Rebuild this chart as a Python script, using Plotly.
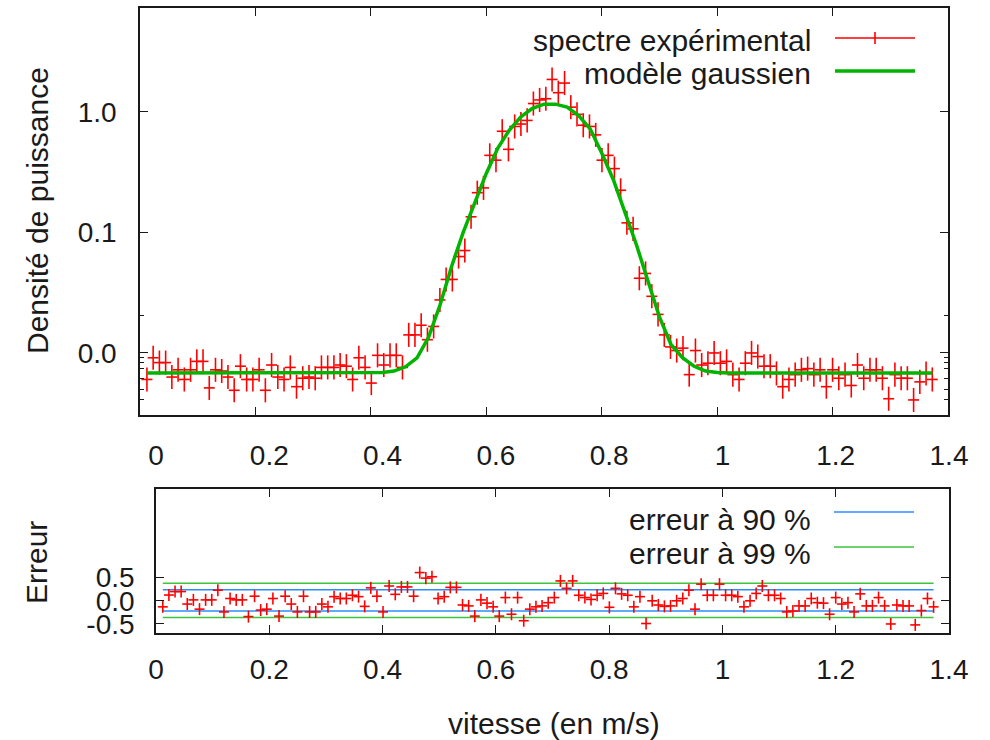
import numpy as np
import plotly.graph_objects as go

W, H = 990, 740
FONT = "Liberation Sans, Arial, sans-serif"
FS_TICK = 28
FS_TEXT = 30

# velocity grid of the spectrum bins (m/s)
vitesse = np.round(0.012 + 0.0108 * np.arange(127), 4)

# measured spectrum, in the display units of the y axis (tick 0.0 -> 0, 0.1 -> 1, 1.0 -> 2)
spectre = [
    -0.22, -0.04, -0.08, -0.08, -0.20, -0.14, -0.22, -0.14, -0.07, -0.07,
    -0.29, -0.14, -0.15, -0.20, -0.31, -0.11, -0.22, -0.22, -0.14, -0.31,
    -0.10, -0.20, -0.22, -0.12, -0.28, -0.21, -0.20, -0.21, -0.12, -0.12,
    -0.12, -0.10, -0.11, -0.22, -0.04, -0.12, -0.25, -0.02, -0.10, -0.02,
    -0.02, -0.12, 0.15, 0.15, 0.23, 0.11, 0.22, 0.44, 0.61, 0.61,
    0.80, 0.85, 1.13, 1.33, 1.37, 1.64, 1.60, 1.84, 1.69, 1.88,
    1.90, 1.93, 2.07, 2.10, 2.11, 2.27, 2.16, 2.24, 2.04, 1.98,
    1.89, 1.88, 1.81, 1.60, 1.64, 1.53, 1.35, 1.08, 1.03, 0.62,
    0.66, 0.47, 0.32, 0.15, 0.05, 0.02, 0.04, -0.18, 0.02, -0.10,
    -0.085, 0.0, -0.085, -0.07, -0.18, -0.22, -0.085, 0.0, -0.03, -0.11,
    -0.11, -0.17, -0.28, -0.22, -0.18, -0.14, -0.13, -0.18, -0.14, -0.28,
    -0.14, -0.21, -0.18, -0.27, -0.10, -0.21, -0.14, -0.14, -0.21, -0.38,
    -0.18, -0.21, -0.21, -0.39, -0.24, -0.17, -0.22,
]

# gaussian model, same display units
modele_x = [0.012, 0.40, 0.42, 0.44, 0.46, 0.48, 0.50, 0.52, 0.54, 0.56, 0.58,
            0.60, 0.62, 0.64, 0.66, 0.68, 0.70, 0.72, 0.74, 0.76, 0.78, 0.80,
            0.82, 0.84, 0.86, 0.88, 0.90, 0.92, 0.94, 0.96, 0.98, 1.00, 1.02, 1.373]
modele_y = [-0.166, -0.166, -0.162, -0.150, -0.115, -0.04, 0.13, 0.40, 0.72, 1.00, 1.25,
            1.49, 1.70, 1.85, 1.96, 2.03, 2.065, 2.065, 2.04, 1.97, 1.86, 1.66,
            1.44, 1.18, 0.90, 0.60, 0.30, 0.07, -0.04, -0.11, -0.15, -0.163, -0.166, -0.166]

# normalised residuals
erreur = [
    -0.13, 0.125, 0.20, 0.20, -0.07, 0.02, -0.18, 0.02, 0.02, 0.23,
    -0.24, 0.05, 0.02, 0.02, -0.34, 0.10, -0.20, -0.18, 0.05, -0.33,
    0.10, -0.07, -0.24, 0.10, -0.24, -0.24, -0.07, -0.13, 0.09, 0.05,
    0.05, 0.12, 0.09, -0.12, 0.28, 0.10, -0.24, 0.32, 0.14, 0.30,
    0.30, 0.10, 0.61, 0.49, 0.52, 0.05, 0.09, 0.29, 0.29, -0.09,
    -0.11, -0.33, 0.02, -0.05, -0.13, -0.33, 0.07, -0.29, 0.07, -0.43,
    -0.18, -0.13, -0.11, -0.04, 0.07, 0.43, 0.27, 0.43, 0.12, 0.07,
    0.03, 0.12, 0.16, -0.14, 0.27, 0.15, 0.12, -0.13, 0.09, -0.49,
    0.00, -0.09, -0.12, -0.11, 0.00, 0.05, 0.23, -0.18, 0.36, 0.12,
    0.12, 0.36, 0.12, 0.12, 0.09, -0.13, 0.00, 0.16, 0.32, 0.12,
    0.12, 0.05, -0.24, -0.22, -0.11, -0.11, 0.05, -0.04, -0.05, -0.29,
    0.07, -0.07, -0.04, -0.24, 0.15, -0.11, -0.11, 0.07, -0.11, -0.50,
    -0.09, -0.11, -0.11, -0.52, -0.21, 0.05, -0.13,
]

seuil_90 = [0.24, -0.22]
seuil_99 = [0.38, -0.36]

x_ticks = [0, 0.2, 0.4, 0.6, 0.8, 1.0, 1.2, 1.4]
x_ticktext = ["0", "0.2", "0.4", "0.6", "0.8", "1", "1.2", "1.4"]


def px(x):
    return x / W


def py(y):
    return 1 - y / H


RED = "#ff0000"
GREEN = "#00b400"
BLUE = "#2a8cff"
GREEN2 = "#3cc43c"
INK = "#1a1a1a"

fig = go.Figure()

fig.add_trace(go.Scatter(
    x=vitesse, y=spectre, mode="markers", marker=dict(size=2, color=RED, opacity=0),
    error_x=dict(type="constant", value=0.0095, width=0, thickness=1.6, color=RED),
    error_y=dict(type="constant", value=0.10, width=0, thickness=1.6, color=RED),
    xaxis="x", yaxis="y", showlegend=False, hoverinfo="skip"))

fig.add_trace(go.Scatter(
    x=modele_x, y=modele_y, mode="lines", line=dict(color=GREEN, width=3.5),
    xaxis="x", yaxis="y", showlegend=False, hoverinfo="skip"))

x0, x1 = vitesse[0], vitesse[-1]
for seuil, col in ((seuil_90, BLUE), (seuil_99, GREEN2)):
    fig.add_trace(go.Scatter(
        x=[x0, x1, None, x0, x1], y=[seuil[0], seuil[0], None, seuil[1], seuil[1]],
        mode="lines", line=dict(color=col, width=1.6),
        xaxis="x2", yaxis="y2", showlegend=False, hoverinfo="skip"))

fig.add_trace(go.Scatter(
    x=vitesse, y=erreur, mode="markers", marker=dict(size=2, color=RED, opacity=0),
    error_x=dict(type="constant", value=0.0088, width=0, thickness=1.6, color=RED),
    error_y=dict(type="constant", value=0.13, width=0, thickness=1.6, color=RED),
    xaxis="x2", yaxis="y2", showlegend=False, hoverinfo="skip"))

# invisible trace so the free label axis between the panels is drawn
fig.add_trace(go.Scatter(x=[None], y=[None], xaxis="x3", yaxis="y", showlegend=False))

frame = dict(showline=True, linecolor=INK, linewidth=1.6, mirror="ticks",
             ticks="inside", ticklen=8, tickwidth=1.4, tickcolor=INK,
             showgrid=False, zeroline=False, automargin=False,
             tickfont=dict(family=FONT, size=FS_TICK, color=INK))

fig.update_layout(
    width=W, height=H, autosize=False,
    margin=dict(l=0, r=0, t=0, b=0, autoexpand=False),
    paper_bgcolor="white", plot_bgcolor="rgba(0,0,0,0)",
    xaxis=dict(frame, domain=[px(140), px(948)], range=[0, 1.4], anchor="y",
               tickvals=x_ticks, showticklabels=False),
    yaxis=dict(frame, domain=[py(415), py(8)], range=[-0.515, 2.863], anchor="x",
               tickvals=[0, 1, 2], ticktext=["0.0", "0.1", "1.0"], ticklabelstandoff=16,
               minor=dict(tickvals=[0.315, -0.04, -0.083, -0.125, -0.216, -0.30, -0.39],
                          ticks="inside", ticklen=4, tickcolor=INK)),
    xaxis2=dict(frame, domain=[px(156), px(949)], range=[0, 1.4], anchor="y2",
                tickvals=x_ticks, ticktext=x_ticktext, ticklabelstandoff=11),
    yaxis2=dict(frame, domain=[py(633), py(489)], range=[-0.695, 2.415], anchor="x2",
                tickvals=[-0.5, 0, 0.5], ticktext=["-0.5", "0.0", "0.5"], ticklabelstandoff=14),
    xaxis3=dict(domain=[px(156), px(949)], range=[0, 1.4], anchor="free", position=py(436),
                showline=False, ticks="", showgrid=False, zeroline=False, automargin=False,
                tickvals=x_ticks, ticktext=x_ticktext,
                tickfont=dict(family=FONT, size=FS_TICK, color=INK)),
)

ann = [
    dict(text="Densité de puissance", x=px(38), y=py(211), textangle=-90),
    dict(text="Erreur", x=px(36), y=py(563), textangle=-90),
    dict(text="vitesse (en m/s)", x=px(554), y=py(723)),
    dict(text="spectre expérimental", x=px(813), y=py(40), xanchor="right"),
    dict(text="modèle gaussien", x=px(813), y=py(74), xanchor="right"),
    dict(text="erreur à 90 %", x=px(813), y=py(519), xanchor="right"),
    dict(text="erreur à 99 %", x=px(813), y=py(553), xanchor="right"),
]
for a in ann:
    a.setdefault("xanchor", "center")
    fig.add_annotation(xref="paper", yref="paper", showarrow=False, yanchor="middle",
                       font=dict(family=FONT, size=FS_TEXT, color=INK), **a)


# legend samples (text on the left, line on the right)
def seg(xa, xb, ya, yb, col, w):
    fig.add_shape(type="line", xref="paper", yref="paper",
                  x0=px(xa), x1=px(xb), y0=py(ya), y1=py(yb),
                  line=dict(color=col, width=w))


seg(835, 915, 38, 38, RED, 1.6)
seg(875, 875, 32, 44, RED, 1.6)
seg(835, 915, 71, 71, GREEN, 3.5)
seg(834, 914, 512, 512, BLUE, 1.6)
seg(834, 914, 547, 547, GREEN2, 1.6)

# the figure fills the whole 990x740 page, without the default body margin
fig.write_html(
    "out.html",
    config={"responsive": False, "displayModeBar": False},
    post_script="document.body.style.margin='0';document.body.style.overflow='hidden';",
)
